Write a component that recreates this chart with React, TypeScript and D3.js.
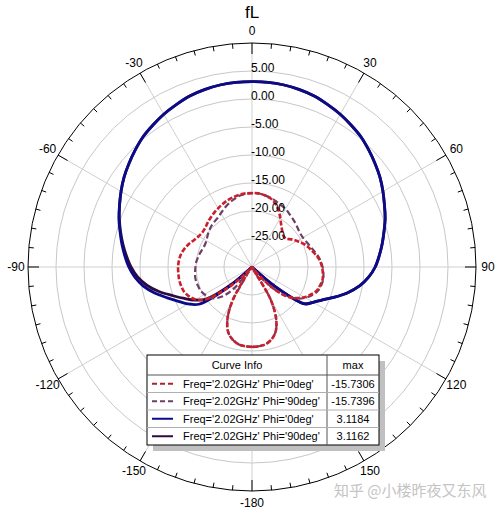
import React from 'react';
import * as d3 from 'd3';

const W = 502;
const H = 513;
const CX = 252;
const CY = 267;
const R = 224;
const FONT = 'Arial, "Liberation Sans", sans-serif';

const TITLE = 'fL';
const R_DOMAIN = [-30, 10];
const RADIAL_TICKS = [-25, -20, -15, -10, -5, 0, 5];
const ANGLE_LABELS = [0, 30, 60, 90, 120, 150, 180, -150, -120, -90, -60, -30];

const ANGLES = [
  -180, -175, -170, -165, -160, -155, -150, -145, -140, -135, -130, -125, -120, -115, -110, -105, -100, -95, -90, -85,
  -80, -75, -70, -65, -60, -55, -50, -45, -40, -35, -30, -25, -20, -15, -10, -5, 0, 5, 10, 15,
  20, 25, 30, 35, 40, 45, 50, 55, 60, 65, 70, 75, 80, 85, 90, 95, 100, 105, 110, 115,
  120, 125, 130, 135, 140, 145, 150, 155, 160, 165, 170, 175, 180,
];

const PHI0_DASH = [
  -15.73, -15.8, -16.0, -16.6, -17.6, -19.6, -23.0, -28.5, -31, -27.5, -23.7, -19.9, -18.4, -17.6, -17.1, -16.9, -16.8, -16.8, -16.8, -16.9,
  -17.1, -17.5, -18.0, -18.6, -19.0, -19.2, -19.1, -18.8, -18.5, -18.2, -17.9, -17.6, -17.3, -17.1, -16.9, -16.8, -16.8, -16.8, -17.0, -17.3,
  -17.9, -18.8, -19.9, -20.9, -21.6, -22.1, -22.1, -21.4, -20.7, -20.0, -19.4, -18.9, -18.3, -17.8, -17.5, -17.3, -17.2, -17.4, -17.7, -18.4,
  -19.2, -20.3, -21.8, -24.5, -28.0, -30.5, -23.5, -19.8, -17.7, -16.6, -16.0, -15.8, -15.73,
];

const PHI90_DASH = [
  -15.74, -15.8, -16.0, -16.6, -17.6, -19.6, -23.0, -28.5, -25.0, -22.6, -21.3, -20.6, -20.2, -19.9, -19.8, -19.7, -19.7, -19.8, -19.9, -20.0,
  -20.2, -20.4, -20.6, -20.7, -20.6, -20.3, -20.0, -19.7, -19.5, -19.3, -18.9, -18.4, -17.9, -17.5, -17.1, -16.9, -16.8, -16.8, -17.0, -17.2,
  -17.5, -17.8, -18.0, -18.4, -18.7, -19.0, -19.3, -19.5, -19.5, -19.3, -19.0, -18.6, -18.1, -17.7, -17.4, -17.2, -17.1, -17.2, -17.5, -18.1,
  -19.0, -20.2, -21.8, -24.5, -28.0, -30.5, -23.5, -19.8, -17.7, -16.6, -16.0, -15.8, -15.74,
];

const PHI0_SOLID = [
  -35, -35, -35, -35, -35, -35, -35, -35, -35, -31, -24.0, -18.4, -16.8, -15.5, -13.9, -12.0, -10.3, -9.0, -8.0, -7.2,
  -6.4, -5.6, -4.7, -3.9, -3.0, -2.1, -1.3, -0.5, 0.3, 0.9, 1.5, 2.0, 2.5, 2.8, 3.0, 3.1, 3.12, 3.1, 3.0, 2.8,
  2.5, 2.0, 1.5, 0.9, 0.3, -0.5, -1.3, -2.1, -3.0, -3.9, -4.7, -5.6, -6.4, -7.2, -8.0, -9.1, -10.5, -12.3, -14.3, -16.1,
  -17.4, -18.5, -24.5, -31, -35, -35, -35, -35, -35, -35, -35, -35, -35,
];

const PHI90_SOLID = [
  -35, -35, -35, -35, -35, -35, -35, -35, -35, -31, -25.0, -20.0, -18.2, -16.7, -15.0, -12.9, -11.0, -9.5, -8.4, -7.5,
  -6.6, -5.7, -4.8, -3.9, -3.0, -2.1, -1.3, -0.5, 0.3, 0.9, 1.5, 2.0, 2.5, 2.8, 3.0, 3.1, 3.116, 3.1, 3.0, 2.8,
  2.5, 2.0, 1.5, 0.9, 0.3, -0.5, -1.3, -2.1, -3.0, -3.9, -4.7, -5.6, -6.4, -7.2, -8.0, -9.1, -10.5, -12.3, -14.3, -16.1,
  -17.4, -18.6, -24.5, -31, -35, -35, -35, -35, -35, -35, -35, -35, -35,
];

const LEGEND_HEADER = ['Curve Info', 'max'];
const LEGEND_NAMES = [
  "Freq='2.02GHz' Phi='0deg'",
  "Freq='2.02GHz' Phi='90deg'",
  "Freq='2.02GHz' Phi='0deg'",
  "Freq='2.02GHz' Phi='90deg'",
];
const LEGEND_MAX = ['-15.7306', '-15.7396', '3.1184', '3.1162'];

const SERIES = [
  { values: PHI90_SOLID, color: '#2e0b3e', dash: null as string | null, width: 2.8 },
  { values: PHI0_SOLID, color: '#0b0b8a', dash: null as string | null, width: 2.8 },
  { values: PHI90_DASH, color: '#6e3f66', dash: '6,3', width: 2.2 },
  { values: PHI0_DASH, color: '#cc1f2c', dash: '5,2', width: 2.6 },
];
const LEGEND_STYLE = [
  { color: '#b0222a', dash: '5,3' },
  { color: '#6e3f66', dash: '5,3' },
  { color: '#0b0b8a', dash: null as string | null },
  { color: '#2e0b3e', dash: null as string | null },
];

export default function App() {
  const r = d3.scaleLinear().domain(R_DOMAIN).range([0, R]);
  const toRad = (deg: number) => (deg * Math.PI) / 180;
  const pt = (deg: number, rad: number) => [Math.sin(toRad(deg)) * rad, -Math.cos(toRad(deg)) * rad];

  const line = (vals: number[]) =>
    d3
      .lineRadial<number>()
      .angle((_, i) => toRad(ANGLES[i]))
      .radius((d) => r(Math.max(R_DOMAIN[0], d)))
      .curve(d3.curveCatmullRom.alpha(0.5))(vals) || '';

  const ticks: { deg: number; major: boolean }[] = [];
  for (let a = 0; a < 360; a += 5) ticks.push({ deg: a, major: a % 30 === 0 });
  const spokes = [0, 30, 60, 90, 120, 150, 180, 210, 240, 270, 300, 330];

  const lx = 147, ly = 355, lw = 232, lh = 90, divX = 327, headH = 20;
  const rowH = (lh - headH) / 4;

  return (
    <svg width={W} height={H} style={{ position: 'absolute', left: 0, top: 0, background: '#fff' }} fontFamily={FONT}>
      <rect x={0} y={0} width={W} height={H} fill="#fff" />
      <text x={CX} y={18} textAnchor="middle" fontSize={17} fill="#000">{TITLE}</text>
      <g transform={`translate(${CX},${CY})`}>
        {RADIAL_TICKS.map((t) => (
          <circle key={t} r={r(t)} fill="none" stroke="#c8c8c8" strokeWidth={1} />
        ))}
        {spokes.map((a) => {
          const [x, y] = pt(a, R);
          return <line key={a} x1={0} y1={0} x2={x} y2={y} stroke="#cfcfcf" strokeWidth={1} />;
        })}
        <circle r={R} fill="none" stroke="#000" strokeWidth={1} />
        {ticks.map((t) => {
          const [x1, y1] = pt(t.deg, R);
          const [x2, y2] = pt(t.deg, R - (t.major ? 11 : 5));
          return <line key={t.deg} x1={x1} y1={y1} x2={x2} y2={y2} stroke="#000" strokeWidth={1} />;
        })}
        {ANGLE_LABELS.map((a) => {
          const [x, y] = pt(a, 236);
          return (
            <text key={a} x={x} y={y} textAnchor="middle" dominantBaseline="central" fontSize={12} fill="#000">
              {a === 180 ? '-180' : String(a)}
            </text>
          );
        })}
        {SERIES.map((s, i) => (
          <path
            key={i}
            d={line(s.values)}
            fill="none"
            stroke={s.color}
            strokeWidth={s.width}
            strokeDasharray={s.dash || undefined}
            strokeLinejoin="round"
          />
        ))}
        {RADIAL_TICKS.map((t) => (
          <text key={t} x={-1} y={-r(t) + 1} fontSize={12} fill="#000">
            {t.toFixed(2)}
          </text>
        ))}
      </g>
      <g fontSize={11}>
        <rect x={lx + 6} y={ly + 6} width={lw} height={lh} fill="#c0c0c0" />
        <rect x={lx} y={ly} width={lw} height={lh} fill="#fff" stroke="#000" strokeWidth={1} />
        <line x1={divX} y1={ly} x2={divX} y2={ly + lh} stroke="#555" strokeWidth={1} />
        <line x1={lx} y1={ly + headH} x2={lx + lw} y2={ly + headH} stroke="#555" strokeWidth={1} />
        {[1, 2, 3].map((k) => (
          <line key={k} x1={lx} y1={ly + headH + k * rowH} x2={lx + lw} y2={ly + headH + k * rowH} stroke="#b0b0b0" strokeWidth={1} />
        ))}
        <text x={(lx + divX) / 2} y={ly + headH / 2} textAnchor="middle" dominantBaseline="central" fill="#000">
          {LEGEND_HEADER[0]}
        </text>
        <text x={(divX + lx + lw) / 2} y={ly + headH / 2} textAnchor="middle" dominantBaseline="central" fill="#000">
          {LEGEND_HEADER[1]}
        </text>
        {LEGEND_NAMES.map((n, i) => {
          const cy = ly + headH + rowH * (i + 0.5);
          const st = LEGEND_STYLE[i];
          return (
            <g key={i}>
              <line x1={152} y1={cy} x2={173} y2={cy} stroke={st.color} strokeWidth={2} strokeDasharray={st.dash || undefined} />
              <text x={183} y={cy} dominantBaseline="central" fill="#000">{n}</text>
              <text x={(divX + lx + lw) / 2} y={cy} textAnchor="middle" dominantBaseline="central" fill="#000">
                {LEGEND_MAX[i]}
              </text>
            </g>
          );
        })}
      </g>
      <text x={334} y={496} fontSize={15} fill="#c4c4c4" fontFamily='"Noto Sans CJK SC", sans-serif'>
        知乎 @小楼昨夜又东风
      </text>
    </svg>
  );
}
